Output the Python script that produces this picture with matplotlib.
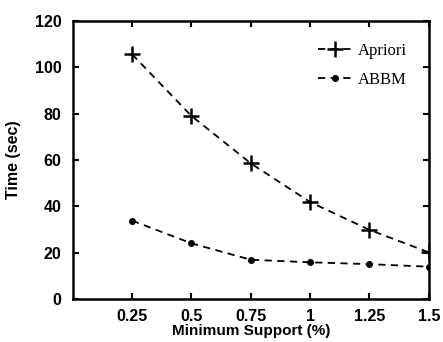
import matplotlib.pyplot as plt

support = [0.25, 0.5, 0.75, 1.0, 1.25, 1.5]
apriori = [105.6, 79.0, 58.5, 41.8, 29.8, 20.1]
abbm = [33.8, 24.0, 16.9, 15.8, 15.0, 13.9]
xticks = [0.25, 0.5, 0.75, 1, 1.25, 1.5]
xticklabels = ['0.25', '0.5', '0.75', '1', '1.25', '1.5']
yticks = [0, 20, 40, 60, 80, 100, 120]

plt.rcParams['font.family'] = 'Liberation Sans'

fig = plt.figure(figsize=(4.43, 3.42), dpi=100)
ax = fig.add_axes([0.164, 0.126, 0.804, 0.813])

ax.plot(support, apriori, color='black', linestyle='--', dashes=(4, 3), linewidth=1.3,
        marker='+', markersize=11, markeredgewidth=1.8, label='Apriori')
ax.plot(support, abbm, color='black', linestyle='--', dashes=(4, 3), linewidth=1.3,
        marker='o', markersize=4, label='ABBM')

ax.set_xlim(0, 1.5)
ax.set_ylim(0, 120)
ax.set_xticks(xticks)
ax.set_xticklabels(xticklabels)
ax.set_yticks(yticks)
ax.tick_params(direction='in', top=True, right=True, length=4, width=1.5, labelsize=11.5)
ax.tick_params(axis='x', pad=7)
ax.tick_params(axis='y', pad=8)
for lab in ax.get_xticklabels() + ax.get_yticklabels():
    lab.set_fontweight('bold')
for s in ax.spines.values():
    s.set_linewidth(1.8)

ax.set_xlabel('Minimum Support (%)', fontsize=11, fontweight='bold', labelpad=0)
ax.set_ylabel('Time (sec)', fontsize=11.5, fontweight='bold', labelpad=10)

leg = ax.legend(loc='upper right', frameon=False, handlelength=2.0, handletextpad=0.4,
                labelspacing=0.8, prop={'family': 'Liberation Serif', 'size': 12},
                borderaxespad=0.9)

fig.savefig('out.png', dpi=100)
